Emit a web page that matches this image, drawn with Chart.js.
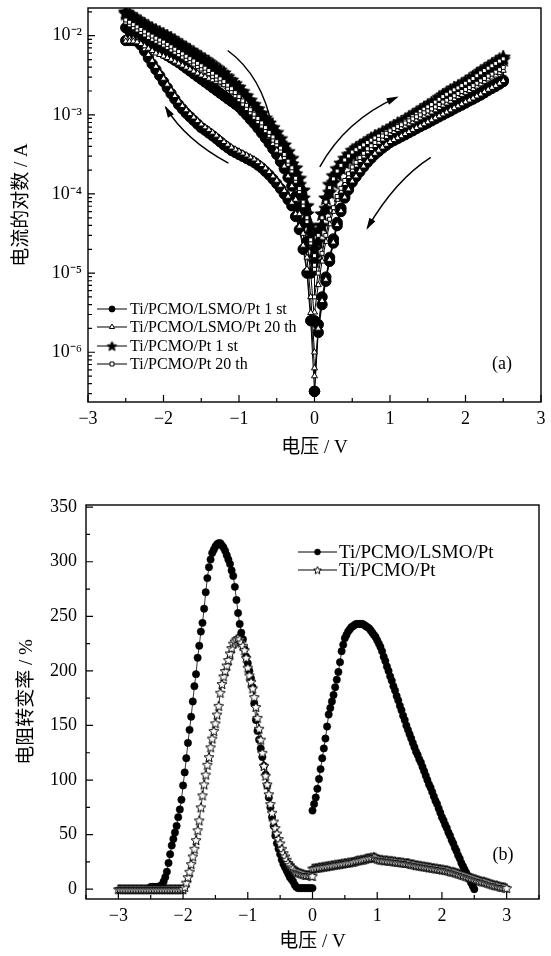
<!DOCTYPE html>
<html><head><meta charset="utf-8">
<script src="https://cdn.jsdelivr.net/npm/chart.js@4.4.0/dist/chart.umd.min.js"></script>
<style>
html,body{margin:0;padding:0;background:#fff;width:551px;height:956px;overflow:hidden}
#ca{position:absolute;left:0;top:0}
#cb{position:absolute;left:0;top:478px}
</style></head><body>
<canvas id="ca" width="551" height="460"></canvas>
<canvas id="cb" width="551" height="478"></canvas>
<script>
// ---------- Panel (a): I-V loops; every branch listed from |V|=0 to |V|=2.5 ----------
const voltsPosA = [0,0.05,0.1,0.15,0.2,0.25,0.3,0.35,0.4,0.45,
  0.5,0.55,0.6,0.65,0.7,0.75,0.8,0.85,0.9,0.95,
  1.0,1.05,1.1,1.15,1.2,1.25,1.3,1.35,1.4,1.45,
  1.5,1.55,1.6,1.65,1.7,1.75,1.8,1.85,1.9,1.95,
  2.0,2.05,2.1,2.15,2.2,2.25,2.3,2.35,2.4,2.45,2.5];
const voltsNegA = [0,-0.05,-0.1,-0.15,-0.2,-0.25,-0.3,-0.35,-0.4,-0.45,
  -0.5,-0.55,-0.6,-0.65,-0.7,-0.75,-0.8,-0.85,-0.9,-0.95,
  -1.0,-1.05,-1.1,-1.15,-1.2,-1.25,-1.3,-1.35,-1.4,-1.45,
  -1.5,-1.55,-1.6,-1.65,-1.7,-1.75,-1.8,-1.85,-1.9,-1.95,
  -2.0,-2.05,-2.1,-2.15,-2.2,-2.25,-2.3,-2.35,-2.4,-2.45,-2.5];

// Ti/PCMO/LSMO/Pt 1 st (A)
const lsmo1PosOut = [3.2e-7,2.24e-6,5.0e-6,8.9e-6,1.58e-5,2.7e-5,4.37e-5,6.6e-5,9.5e-5,1.22e-4,
  1.51e-4,1.77e-4,2.04e-4,2.36e-4,2.69e-4,3.03e-4,3.39e-4,3.72e-4,4.07e-4,4.42e-4,
  4.79e-4,5.1e-4,5.4e-4,5.7e-4,6.0e-4,6.4e-4,6.8e-4,7.2e-4,7.6e-4,8.0e-4,
  8.5e-4,9.0e-4,9.5e-4,1.01e-3,1.07e-3,1.13e-3,1.2e-3,1.27e-3,1.35e-3,1.43e-3,
  1.51e-3,1.6e-3,1.7e-3,1.8e-3,1.91e-3,2.05e-3,2.19e-3,2.32e-3,2.45e-3,2.6e-3,2.75e-3];
const lsmo1PosBack = [3.2e-7,1.78e-6,4.0e-6,7.9e-6,1.41e-5,2.4e-5,3.98e-5,6.0e-5,8.9e-5,1.13e-4,
  1.41e-4,1.65e-4,1.91e-4,2.2e-4,2.51e-4,2.82e-4,3.16e-4,3.47e-4,3.8e-4,4.12e-4,
  4.47e-4,4.73e-4,5.0e-4,5.3e-4,5.6e-4,5.95e-4,6.3e-4,6.7e-4,7.1e-4,7.5e-4,
  7.9e-4,8.4e-4,8.9e-4,9.45e-4,1.0e-3,1.06e-3,1.12e-3,1.19e-3,1.26e-3,1.33e-3,
  1.41e-3,1.5e-3,1.58e-3,1.68e-3,1.78e-3,1.9e-3,2.04e-3,2.16e-3,2.29e-3,2.45e-3,2.63e-3];
const lsmo1NegOut = [3.2e-7,2.5e-6,1.0e-5,2.0e-5,3.55e-5,5.2e-5,7.1e-5,8.5e-5,1.0e-4,1.17e-4,
  1.35e-4,1.54e-4,1.74e-4,1.93e-4,2.14e-4,2.32e-4,2.51e-4,2.66e-4,2.82e-4,2.99e-4,
  3.16e-4,3.35e-4,3.55e-4,3.85e-4,4.17e-4,4.57e-4,5.0e-4,5.45e-4,5.9e-4,6.4e-4,
  6.9e-4,7.65e-4,8.5e-4,9.45e-4,1.05e-3,1.19e-3,1.35e-3,1.58e-3,1.86e-3,2.2e-3,
  2.63e-3,3.13e-3,3.72e-3,4.4e-3,5.25e-3,6.4e-3,7.6e-3,8.5e-3,8.7e-3,8.7e-3,8.7e-3];
const lsmo1NegBack = [2.5e-6,1.0e-5,2.51e-5,4.27e-5,6.8e-5,9.3e-5,1.26e-4,1.62e-4,2.09e-4,2.57e-4,
  3.16e-4,3.72e-4,4.37e-4,5.1e-4,5.9e-4,6.8e-4,7.8e-4,8.8e-4,1.0e-3,1.12e-3,
  1.26e-3,1.37e-3,1.48e-3,1.6e-3,1.74e-3,1.88e-3,2.04e-3,2.21e-3,2.4e-3,2.6e-3,
  2.82e-3,3.05e-3,3.31e-3,3.59e-3,3.89e-3,4.22e-3,4.57e-3,4.9e-3,5.25e-3,5.6e-3,
  6.0e-3,6.45e-3,6.9e-3,7.4e-3,7.9e-3,8.5e-3,9.1e-3,9.9e-3,1.07e-2,1.16e-2,1.26e-2];

// Ti/PCMO/LSMO/Pt 20 th (A)
const lsmo20PosOut = [3.2e-6,7.1e-6,1.41e-5,2.5e-5,4.17e-5,6.0e-5,8.5e-5,1.08e-4,1.35e-4,1.65e-4,
  2.0e-4,2.3e-4,2.63e-4,3.0e-4,3.39e-4,3.72e-4,4.07e-4,4.47e-4,4.9e-4,5.3e-4,
  5.75e-4,6.1e-4,6.5e-4,6.85e-4,7.2e-4,7.65e-4,8.1e-4,8.6e-4,9.1e-4,9.65e-4,
  1.02e-3,1.08e-3,1.15e-3,1.23e-3,1.32e-3,1.4e-3,1.48e-3,1.59e-3,1.7e-3,1.8e-3,
  1.91e-3,2.02e-3,2.14e-3,2.29e-3,2.45e-3,2.63e-3,2.82e-3,2.99e-3,3.16e-3,3.39e-3,3.63e-3];
const lsmo20PosBack = [5.0e-7,2.0e-6,4.47e-6,8.3e-6,1.48e-5,2.45e-5,4.07e-5,6.1e-5,9.1e-5,1.15e-4,
  1.45e-4,1.68e-4,1.95e-4,2.24e-4,2.57e-4,2.89e-4,3.24e-4,3.55e-4,3.89e-4,4.22e-4,
  4.57e-4,4.83e-4,5.1e-4,5.4e-4,5.75e-4,6.1e-4,6.5e-4,6.85e-4,7.2e-4,7.65e-4,
  8.1e-4,8.6e-4,9.1e-4,9.65e-4,1.02e-3,1.08e-3,1.15e-3,1.22e-3,1.29e-3,1.37e-3,
  1.45e-3,1.53e-3,1.62e-3,1.72e-3,1.82e-3,1.95e-3,2.09e-3,2.21e-3,2.34e-3,2.5e-3,2.69e-3];
const lsmo20NegOut = [6.3e-7,3.16e-6,1.12e-5,2.24e-5,3.89e-5,5.6e-5,7.8e-5,9.3e-5,1.1e-4,1.28e-4,
  1.48e-4,1.68e-4,1.91e-4,2.12e-4,2.34e-4,2.54e-4,2.75e-4,2.92e-4,3.09e-4,3.27e-4,
  3.47e-4,3.67e-4,3.89e-4,4.22e-4,4.57e-4,5.0e-4,5.5e-4,6.0e-4,6.5e-4,7.0e-4,
  7.6e-4,8.4e-4,9.3e-4,1.03e-3,1.15e-3,1.3e-3,1.48e-3,1.74e-3,2.04e-3,2.42e-3,
  2.88e-3,3.42e-3,4.07e-3,4.84e-3,5.75e-3,6.8e-3,7.9e-3,8.7e-3,9.1e-3,9.2e-3,9.3e-3];
const lsmo20NegBack = [1.0e-6,5.0e-6,1.58e-5,3.16e-5,5.6e-5,8.5e-5,1.26e-4,1.68e-4,2.24e-4,2.82e-4,
  3.55e-4,4.32e-4,5.25e-4,6.3e-4,7.6e-4,8.9e-4,1.05e-3,1.2e-3,1.38e-3,1.55e-3,
  1.74e-3,1.91e-3,2.09e-3,2.24e-3,2.4e-3,2.51e-3,2.63e-3,2.75e-3,2.88e-3,3.02e-3,
  3.16e-3,3.35e-3,3.55e-3,3.76e-3,3.98e-3,4.22e-3,4.47e-3,4.73e-3,5.0e-3,5.25e-3,
  5.5e-3,5.75e-3,6.0e-3,6.45e-3,6.9e-3,7.4e-3,7.9e-3,8.3e-3,8.5e-3,8.5e-3,8.5e-3];

// Ti/PCMO/Pt 1 st (A)
const pcmo1PosOut = [2.0e-5,3.5e-5,5.6e-5,8.9e-5,1.32e-4,1.7e-4,2.09e-4,2.45e-4,2.82e-4,3.16e-4,
  3.55e-4,3.8e-4,4.07e-4,4.37e-4,4.68e-4,5.01e-4,5.37e-4,5.62e-4,6.03e-4,6.31e-4,
  6.76e-4,7.24e-4,7.76e-4,8.13e-4,8.71e-4,9.33e-4,1.0e-3,1.07e-3,1.15e-3,1.23e-3,
  1.32e-3,1.41e-3,1.51e-3,1.66e-3,1.78e-3,1.91e-3,2.04e-3,2.19e-3,2.29e-3,2.45e-3,
  2.63e-3,2.82e-3,3.02e-3,3.31e-3,3.55e-3,3.8e-3,4.07e-3,4.37e-3,4.68e-3,5.01e-3,5.37e-3];
const pcmo1PosBack = [1.4e-5,2.5e-5,4.0e-5,6.6e-5,1.05e-4,1.4e-4,1.78e-4,2.14e-4,2.51e-4,2.82e-4,
  3.16e-4,3.45e-4,3.72e-4,4.0e-4,4.27e-4,4.57e-4,4.9e-4,5.2e-4,5.5e-4,5.85e-4,
  6.2e-4,6.6e-4,7.1e-4,7.5e-4,7.9e-4,8.5e-4,9.1e-4,9.8e-4,1.05e-3,1.12e-3,
  1.2e-3,1.29e-3,1.38e-3,1.5e-3,1.62e-3,1.74e-3,1.86e-3,1.97e-3,2.09e-3,2.24e-3,
  2.4e-3,2.57e-3,2.75e-3,2.99e-3,3.24e-3,3.47e-3,3.72e-3,3.98e-3,4.27e-3,4.62e-3,5.0e-3];
const pcmo1NegOut = [1.58e-5,3.16e-5,5.6e-5,8.9e-5,1.32e-4,1.8e-4,2.4e-4,2.95e-4,3.63e-4,4.37e-4,
  5.25e-4,6.1e-4,7.1e-4,8.1e-4,9.3e-4,1.06e-3,1.2e-3,1.36e-3,1.55e-3,1.76e-3,
  2.0e-3,2.21e-3,2.45e-3,2.72e-3,3.02e-3,3.27e-3,3.55e-3,3.85e-3,4.17e-3,4.47e-3,
  4.79e-3,5.13e-3,5.5e-3,5.9e-3,6.3e-3,6.75e-3,7.24e-3,7.76e-3,8.3e-3,8.8e-3,
  9.3e-3,9.9e-3,1.05e-2,1.11e-2,1.17e-2,1.26e-2,1.35e-2,1.46e-2,1.58e-2,1.74e-2,1.91e-2];
const pcmo1NegBack = [2.0e-5,4.0e-5,7.1e-5,1.12e-4,1.58e-4,2.14e-4,2.82e-4,3.43e-4,4.17e-4,5.0e-4,
  6.0e-4,6.9e-4,7.9e-4,9.1e-4,1.05e-3,1.19e-3,1.35e-3,1.53e-3,1.74e-3,1.97e-3,
  2.24e-3,2.48e-3,2.75e-3,3.05e-3,3.39e-3,3.67e-3,3.98e-3,4.32e-3,4.68e-3,5.01e-3,
  5.37e-3,5.75e-3,6.17e-3,6.61e-3,7.08e-3,7.59e-3,8.13e-3,8.71e-3,9.33e-3,9.9e-3,
  1.05e-2,1.11e-2,1.17e-2,1.24e-2,1.32e-2,1.41e-2,1.51e-2,1.62e-2,1.74e-2,1.87e-2,2.0e-2];

// Ti/PCMO/Pt 20 th (A)
const pcmo20PosOut = [1.66e-5,3.0e-5,5.0e-5,7.9e-5,1.2e-4,1.55e-4,1.95e-4,2.3e-4,2.69e-4,3.02e-4,
  3.39e-4,3.63e-4,3.89e-4,4.17e-4,4.47e-4,4.79e-4,5.1e-4,5.4e-4,5.75e-4,6.1e-4,
  6.5e-4,6.9e-4,7.4e-4,7.8e-4,8.3e-4,8.9e-4,9.5e-4,1.02e-3,1.1e-3,1.18e-3,
  1.26e-3,1.35e-3,1.45e-3,1.57e-3,1.7e-3,1.82e-3,1.95e-3,2.07e-3,2.19e-3,2.34e-3,
  2.51e-3,2.69e-3,2.88e-3,3.12e-3,3.39e-3,3.63e-3,3.89e-3,4.17e-3,4.47e-3,4.78e-3,5.1e-3];
const pcmo20PosBack = [5.0e-6,1.0e-5,1.78e-5,3.0e-5,4.8e-5,6.7e-5,9.3e-5,1.18e-4,1.48e-4,1.8e-4,
  2.19e-4,2.51e-4,2.88e-4,3.27e-4,3.72e-4,4.07e-4,4.47e-4,4.9e-4,5.4e-4,5.85e-4,
  6.3e-4,6.7e-4,7.1e-4,7.5e-4,7.9e-4,8.4e-4,8.9e-4,9.45e-4,1.0e-3,1.06e-3,
  1.12e-3,1.19e-3,1.26e-3,1.35e-3,1.45e-3,1.53e-3,1.62e-3,1.74e-3,1.86e-3,1.97e-3,
  2.09e-3,2.21e-3,2.34e-3,2.51e-3,2.69e-3,2.88e-3,3.09e-3,3.27e-3,3.47e-3,3.72e-3,3.98e-3];
const pcmo20NegOut = [1.12e-5,2.4e-5,4.47e-5,7.1e-5,1.07e-4,1.45e-4,1.95e-4,2.37e-4,2.88e-4,3.47e-4,
  4.17e-4,4.79e-4,5.5e-4,6.3e-4,7.2e-4,8.2e-4,9.3e-4,1.06e-3,1.2e-3,1.36e-3,
  1.55e-3,1.74e-3,1.95e-3,2.16e-3,2.4e-3,2.6e-3,2.82e-3,3.06e-3,3.31e-3,3.55e-3,
  3.8e-3,4.07e-3,4.37e-3,4.68e-3,5.0e-3,5.37e-3,5.75e-3,6.17e-3,6.6e-3,7.1e-3,
  7.6e-3,8.05e-3,8.5e-3,9.0e-3,9.5e-3,1.02e-2,1.1e-2,1.18e-2,1.26e-2,1.37e-2,1.48e-2];
const pcmo20NegBack = [1.26e-5,2.63e-5,5.0e-5,7.9e-5,1.17e-4,1.58e-4,2.14e-4,2.6e-4,3.16e-4,3.8e-4,
  4.57e-4,5.25e-4,6.0e-4,6.9e-4,7.9e-4,9.0e-4,1.02e-3,1.16e-3,1.32e-3,1.5e-3,
  1.7e-3,1.91e-3,2.14e-3,2.37e-3,2.63e-3,2.85e-3,3.09e-3,3.35e-3,3.63e-3,3.89e-3,
  4.17e-3,4.47e-3,4.79e-3,5.13e-3,5.5e-3,5.9e-3,6.3e-3,6.75e-3,7.24e-3,7.76e-3,
  8.3e-3,8.8e-3,9.3e-3,9.9e-3,1.05e-2,1.12e-2,1.2e-2,1.29e-2,1.38e-2,1.48e-2,1.58e-2];

const labelsA = ['Ti/PCMO/LSMO/Pt 1 st','Ti/PCMO/LSMO/Pt 20 th','Ti/PCMO/Pt 1 st','Ti/PCMO/Pt 20 th'];
const xTicksA = [-3,-2,-1,0,1,2,3];
const xTickLabelsA = ['\u22123','\u22122','\u22121','0','1','2','3'];
const yTicksA = [1e-6,1e-5,1e-4,1e-3,1e-2];
const yTickLabelsA = ['10\u207B\u2076','10\u207B\u2075','10\u207B\u2074','10\u207B\u00B3','10\u207B\u00B2'];

// ---------- Panel (b): resistance switching ratio (%) ----------
const voltsNegB = [-3,-2.975,-2.95,-2.925,-2.9,-2.875,-2.85,-2.825,-2.8,-2.775,
  -2.75,-2.725,-2.7,-2.675,-2.65,-2.625,-2.6,-2.575,-2.55,-2.525,
  -2.5,-2.475,-2.45,-2.425,-2.4,-2.375,-2.35,-2.325,-2.3,-2.275,
  -2.25,-2.225,-2.2,-2.175,-2.15,-2.125,-2.1,-2.075,-2.05,-2.025,
  -2,-1.975,-1.95,-1.925,-1.9,-1.875,-1.85,-1.825,-1.8,-1.775,
  -1.75,-1.725,-1.7,-1.675,-1.65,-1.625,-1.6,-1.575,-1.55,-1.525,
  -1.5,-1.475,-1.45,-1.425,-1.4,-1.375,-1.35,-1.325,-1.3,-1.275,
  -1.25,-1.225,-1.2,-1.175,-1.15,-1.125,-1.1,-1.075,-1.05,-1.025,
  -1,-0.975,-0.95,-0.925,-0.9,-0.875,-0.85,-0.825,-0.8,-0.775,
  -0.75,-0.725,-0.7,-0.675,-0.65,-0.625,-0.6,-0.575,-0.55,-0.525,
  -0.5,-0.475,-0.45,-0.425,-0.4,-0.375,-0.35,-0.325,-0.3,-0.275,
  -0.25,-0.225,-0.2,-0.175,-0.15,-0.125,-0.1,-0.075,-0.05,-0.025,0];
const voltsPosB = [0,0.025,0.05,0.075,0.1,0.125,0.15,0.175,0.2,0.225,
  0.25,0.275,0.3,0.325,0.35,0.375,0.4,0.425,0.45,0.475,
  0.5,0.525,0.55,0.575,0.6,0.625,0.65,0.675,0.7,0.725,
  0.75,0.775,0.8,0.825,0.85,0.875,0.9,0.925,0.95,0.975,
  1,1.025,1.05,1.075,1.1,1.125,1.15,1.175,1.2,1.225,
  1.25,1.275,1.3,1.325,1.35,1.375,1.4,1.425,1.45,1.475,
  1.5,1.525,1.55,1.575,1.6,1.625,1.65,1.675,1.7,1.725,
  1.75,1.775,1.8,1.825,1.85,1.875,1.9,1.925,1.95,1.975,
  2,2.025,2.05,2.075,2.1,2.125,2.15,2.175,2.2,2.225,
  2.25,2.275,2.3,2.325,2.35,2.375,2.4,2.425,2.45,2.475,
  2.5,2.525,2.55,2.575,2.6,2.625,2.65,2.675,2.7,2.725,
  2.75,2.775,2.8,2.825,2.85,2.875,2.9,2.925,2.95,2.975,3];
// Ti/PCMO/LSMO/Pt : -2.5..0 and 0..2.5
const ratioLsmoNeg = [2,2,2,2,2,2,3,4,7,11,
  16,24,32,40,46,52,58,66,73,82,
  95,107,120,134,146,158,172,186,197,212,
  223,236,244,257,272,285,295,302,308,311,
  314,316,317,317,315,313,310,306,302,298,
  292,287,277,265,253,243,235,229,220,213,
  207,200,193,185,170,155,145,137,129,121,
  113,105,95,84,75,66,58,49,42,37,
  32,27,23,20,17,14,11,9,7,4,
  2,1,1,1,1,1,1,1,1,1,1];
const ratioLsmoPos = [72,78,84,92,101,110,120,129,138,149,
  160,166,172,178,185,192,199,208,218,224,
  230,233,236,238,240,241,242,243,243,243,
  243,243,242,241,240,239,237,235,233,231,
  228,225,222,218,213,209,204,200,195,191,
  186,182,177,173,168,164,159,155,150,146,
  142,138,134,130,126,123,119,116,112,108,
  104,100,96,93,89,85,81,78,74,70,
  66,63,59,56,52,49,45,42,38,35,
  31,28,24,21,18,15,12,9,6,3,0];
// Ti/PCMO/Pt : -3..0 and 0..3
const ratioPcmoNeg = [0,0,0,0,0,0,0,0,0,0,
  0,0,0,0,0,0,0,0,0,0,
  0,0,0,0,0,0,0,0,0,0,
  0,0,0,0,0,0,0,0,0,0,
  0,2,6,11,16,23,30,37,45,54,
  63,75,86,96,105,114,121,130,138,145,
  152,160,168,180,188,195,200,205,210,216,
  221,225,227,229,230,229,226,223,219,212,
  203,196,190,184,176,167,157,147,137,125,
  113,104,96,87,78,70,62,56,51,46,
  42,37,33,30,27,24,22,20,19,17,
  16,15.5,15,14.5,14,13.5,13,13,13,12.5,12];
const ratioPcmoPos = [19,19,19.5,19.5,20,20,20.5,20.5,21,21,
  21.5,21.5,22,22,22.5,22.5,23,23,23.5,23.5,
  24,24,24.5,24.5,25,25,25.5,26,26.5,26.5,
  27,27,27.5,28,28.5,28.5,29,29,29.5,29,
  28,27.5,27,27,26.5,26.5,26.5,26,26,26,
  25.5,25.5,25,25,25,24.5,24.5,24,24,24,
  23.5,23,23,22.5,22,22,21.5,21.5,21,21,
  20.5,20.5,20,20,19.5,19.5,19,19,18.5,18.5,
  18,18,17.5,17.5,17,16.5,16,16,15.5,15,
  14.5,14,13.5,13,12.5,12,11.5,11,10.5,10,
  9.5,9,8.5,8,7.5,7,7,6.5,6,5.5,
  5,4.5,4,3.5,3.5,3,2.5,2,2,1.5,1];
const labelsB = ['Ti/PCMO/LSMO/Pt','Ti/PCMO/Pt'];
const xTicksB = [-3,-2,-1,0,1,2,3];
const xTickLabelsB = ['\u22123','\u22122','\u22121','0','1','2','3'];
const yTicksB = [0,50,100,150,200,250,300,350];
const yTickLabelsB = ['0','50','100','150','200','250','300','350'];

// ---------- helpers ----------
const FONT = "'Liberation Serif','Noto Sans CJK SC',serif";
function makeStar(r, fill) {
  const s = Math.ceil(r * 2 + 3), c = document.createElement('canvas');
  c.width = s; c.height = s;
  const g = c.getContext('2d');
  g.translate(s / 2, s / 2 + 0.5);
  g.beginPath();
  for (let i = 0; i < 10; i++) {
    const rr = i % 2 === 0 ? r : r * 0.45, an = -Math.PI / 2 + i * Math.PI / 5;
    g.lineTo(rr * Math.cos(an), rr * Math.sin(an));
  }
  g.closePath(); g.fillStyle = fill; g.fill();
  g.lineWidth = 1; g.strokeStyle = '#000'; g.stroke();
  return c;
}
function loop(po, pb, no, nb) {
  const pts = [];
  voltsPosA.forEach((v, i) => pts.push({x: v, y: po[i]}));
  for (let i = voltsPosA.length - 1; i >= 0; i--) pts.push({x: voltsPosA[i], y: pb[i]});
  voltsNegA.forEach((v, i) => pts.push({x: v, y: no[i]}));
  for (let i = voltsNegA.length - 1; i >= 0; i--) pts.push({x: voltsNegA[i], y: nb[i]});
  return pts;
}
function joinB(vn, yn, vp, yp) {
  const pts = vn.map((v, i) => ({x: v, y: yn[i]}));
  pts.push({x: 0, y: null});
  vp.forEach((v, i) => pts.push({x: v, y: yp[i]}));
  return pts;
}
function drawFrame(chart, xMaj, xMin, yMaj, yMin) {
  const {ctx, chartArea: a, scales: {x, y}} = chart;
  ctx.save();
  ctx.strokeStyle = '#000';
  ctx.lineWidth = 1.4;
  ctx.strokeRect(a.left, a.top, a.right - a.left, a.bottom - a.top);
  ctx.lineWidth = 1.2;
  ctx.beginPath();
  xMaj.forEach(v => { const p = x.getPixelForValue(v); ctx.moveTo(p, a.bottom); ctx.lineTo(p, a.bottom - 7); });
  xMin.forEach(v => { const p = x.getPixelForValue(v); ctx.moveTo(p, a.bottom); ctx.lineTo(p, a.bottom - 4); });
  yMaj.forEach(v => { const p = y.getPixelForValue(v); ctx.moveTo(a.left, p); ctx.lineTo(a.left + 7, p); });
  yMin.forEach(v => { const p = y.getPixelForValue(v); ctx.moveTo(a.left, p); ctx.lineTo(a.left + 4, p); });
  ctx.stroke();
  ctx.restore();
}
function drawLegend(chart, x0, x1, xt, ys, size) {
  const ctx = chart.ctx;
  ctx.save();
  chart.data.datasets.forEach((ds, i) => {
    const y = ys[i];
    ctx.strokeStyle = '#000'; ctx.lineWidth = 1;
    ctx.beginPath(); ctx.moveTo(x0, y); ctx.lineTo(x1, y); ctx.stroke();
    ctx.fillStyle = ds.pointBackgroundColor; ctx.strokeStyle = '#000'; ctx.lineWidth = ds.pointBorderWidth;
    const r = Math.min(ds.pointRadius, 3);
    Chart.helpers.drawPoint(ctx, {pointStyle: ds.legendStyle || ds.pointStyle, radius: r, rotation: 0, borderWidth: ds.pointBorderWidth}, (x0 + x1) / 2, y);
    ctx.fillStyle = '#000';
    ctx.font = size + 'px ' + FONT;
    ctx.textBaseline = 'middle'; ctx.textAlign = 'left';
    ctx.fillText(ds.label, xt, y + 1);
  });
  ctx.restore();
}
function drawArrow(chart, ar) {
  const {ctx, scales: {x, y}} = chart;
  const P = p => [x.getPixelForValue(p[0]), y.getPixelForValue(p[1])];
  const p0 = P(ar.from), pc = P(ar.ctrl), p1 = P(ar.to);
  ctx.save();
  ctx.strokeStyle = '#000'; ctx.fillStyle = '#000'; ctx.lineWidth = 1.5;
  ctx.beginPath(); ctx.moveTo(p0[0], p0[1]); ctx.quadraticCurveTo(pc[0], pc[1], p1[0], p1[1]); ctx.stroke();
  const an = Math.atan2(p1[1] - pc[1], p1[0] - pc[0]), L = 10, W = 3.5;
  ctx.beginPath();
  ctx.moveTo(p1[0] + 2 * Math.cos(an), p1[1] + 2 * Math.sin(an));
  ctx.lineTo(p1[0] - L * Math.cos(an) + W * Math.sin(an), p1[1] - L * Math.sin(an) - W * Math.cos(an));
  ctx.lineTo(p1[0] - L * Math.cos(an) - W * Math.sin(an), p1[1] - L * Math.sin(an) + W * Math.cos(an));
  ctx.closePath(); ctx.fill();
  ctx.restore();
}

// sweep-direction arrows of panel (a), in data coordinates (V, A)
const arrowsA = [
  {from: [-1.15, 6.5e-3], ctrl: [-0.69, 3.1e-3], to: [-0.56, 6.8e-4]},
  {from: [-1.14, 2.45e-4], ctrl: [-1.71, 4.8e-4], to: [-1.97, 1.24e-3]},
  {from: [0.07, 2.2e-4], ctrl: [0.41, 8.5e-4], to: [1.09, 1.66e-3]},
  {from: [1.54, 2.9e-4], ctrl: [1.07, 1.5e-4], to: [0.70, 3.7e-5]}
];

const starFilled = makeStar(7.5, '#000');
const starOpen = makeStar(5.2, '#fff');
const starFilledLeg = makeStar(5, '#000');
const starOpenLeg = makeStar(4, '#fff');

const tickFont = {family: FONT, size: 18};
const titleFont = {family: FONT, size: 19, lineHeight: 1.2};

// ---------- chart (a) ----------
const minorYA = [];
for (let n = -7; n <= -2; n++) for (let k = 2; k <= 9; k++) { const v = k * Math.pow(10, n); if (v > 2.35e-7 && v < 2.24e-2) minorYA.push(v); }

new Chart(document.getElementById('ca'), {
  type: 'scatter',
  data: {datasets: [
    {label: labelsA[0], data: loop(lsmo1PosOut, lsmo1PosBack, lsmo1NegOut, lsmo1NegBack), showLine: true, order: 4,
     borderColor: '#000', borderWidth: 1, pointStyle: 'circle', pointRadius: 5.2, pointBackgroundColor: '#000', pointBorderColor: '#000', pointBorderWidth: 1},
    {label: labelsA[1], data: loop(lsmo20PosOut, lsmo20PosBack, lsmo20NegOut, lsmo20NegBack), showLine: true, order: 2,
     borderColor: '#000', borderWidth: 1, pointStyle: 'triangle', pointRadius: 3.5, pointBackgroundColor: '#fff', pointBorderColor: '#000', pointBorderWidth: 1},
    {label: labelsA[2], data: loop(pcmo1PosOut, pcmo1PosBack, pcmo1NegOut, pcmo1NegBack), showLine: true, order: 3,
     borderColor: '#000', borderWidth: 1, pointStyle: starFilled, legendStyle: starFilledLeg, pointRadius: 7, pointBackgroundColor: '#000', pointBorderColor: '#000', pointBorderWidth: 1},
    {label: labelsA[3], data: loop(pcmo20PosOut, pcmo20PosBack, pcmo20NegOut, pcmo20NegBack), showLine: true, order: 1,
     borderColor: '#000', borderWidth: 1, pointStyle: 'rect', pointRadius: 2.8, pointBackgroundColor: '#fff', pointBorderColor: '#000', pointBorderWidth: 1}
  ]},
  options: {
    responsive: false, animation: false, events: [],
    layout: {padding: {top: 7, right: 10, left: 0, bottom: 0}},
    plugins: {legend: {display: false}, tooltip: {enabled: false}},
    scales: {
      x: {type: 'linear', min: -3, max: 3,
        grid: {display: false, drawTicks: false}, border: {display: false},
        afterBuildTicks: s => { s.ticks = xTicksA.map(v => ({value: v})); },
        afterFit: s => { s.height = 58; s.paddingLeft = 0; s.paddingRight = 0; },
        ticks: {autoSkip: false, maxRotation: 0, padding: 6, color: '#000', font: tickFont,
          callback: (v, i) => xTickLabelsA[i]},
        title: {display: true, text: '电压 / V', color: '#000', font: titleFont, padding: {top: 0, bottom: 1}}},
      y: {type: 'logarithmic', min: 2.35e-7, max: 2.24e-2,
        grid: {display: false, drawTicks: false}, border: {display: false},
        afterBuildTicks: s => { s.ticks = yTicksA.map(v => ({value: v})); },
        afterFit: s => { s.width = 88; s.paddingTop = 0; s.paddingBottom = 0; },
        ticks: {autoSkip: false, padding: 6, color: '#000', font: tickFont,
          callback: (v, i) => yTickLabelsA[i]},
        title: {display: true, text: '电流的对数 / A', color: '#000', font: titleFont, padding: {top: 11, bottom: 0}}}
    }
  },
  plugins: [{id: 'decorA', afterDatasetsDraw(chart) {
    drawFrame(chart, xTicksA, [-2.5, -1.5, -0.5, 0.5, 1.5, 2.5], yTicksA, minorYA);
    arrowsA.forEach(a => drawArrow(chart, a));
    drawLegend(chart, 97, 127, 130, [309, 327, 346, 364], 16);
    const ctx = chart.ctx; ctx.save(); ctx.fillStyle = '#000'; ctx.font = '18px ' + FONT;
    ctx.textAlign = 'center'; ctx.textBaseline = 'middle'; ctx.fillText('(a)', 502, 364); ctx.restore();
  }}]
});

// ---------- chart (b) ----------
new Chart(document.getElementById('cb'), {
  type: 'scatter',
  data: {datasets: [
    {label: labelsB[0], data: joinB(voltsNegB.slice(20), ratioLsmoNeg, voltsPosB.slice(0, 101), ratioLsmoPos), showLine: true, order: 2,
     borderColor: '#000', borderWidth: 0.8, pointStyle: 'circle', pointRadius: 3.7, pointBackgroundColor: '#000', pointBorderColor: '#000', pointBorderWidth: 0.5},
    {label: labelsB[1], data: joinB(voltsNegB, ratioPcmoNeg, voltsPosB, ratioPcmoPos), showLine: true, order: 1,
     borderColor: '#000', borderWidth: 0.8, pointStyle: starOpen, legendStyle: starOpenLeg, pointRadius: 5, pointBackgroundColor: '#fff', pointBorderColor: '#000', pointBorderWidth: 1}
  ]},
  options: {
    responsive: false, animation: false, events: [],
    layout: {padding: {top: 27, right: 12, left: 0, bottom: 0}},
    plugins: {legend: {display: false}, tooltip: {enabled: false}},
    scales: {
      x: {type: 'linear', min: -3.5, max: 3.5,
        grid: {display: false, drawTicks: false}, border: {display: false},
        afterBuildTicks: s => { s.ticks = xTicksB.map(v => ({value: v})); },
        afterFit: s => { s.height = 57; s.paddingLeft = 0; s.paddingRight = 0; },
        ticks: {autoSkip: false, maxRotation: 0, padding: 6, color: '#000', font: tickFont,
          callback: (v, i) => xTickLabelsB[i]},
        title: {display: true, text: '电压 / V', color: '#000', font: titleFont, padding: {top: 0, bottom: 3}}},
      y: {type: 'linear', min: -9, max: 352,
        grid: {display: false, drawTicks: false}, border: {display: false},
        afterBuildTicks: s => { s.ticks = yTicksB.map(v => ({value: v})); },
        afterFit: s => { s.width = 86; s.paddingTop = 0; s.paddingBottom = 0; },
        ticks: {autoSkip: false, padding: 9, color: '#000', font: tickFont,
          callback: (v, i) => yTickLabelsB[i]},
        title: {display: true, text: '电阻转变率 / %', color: '#000', font: titleFont, padding: {top: 16, bottom: 0}}}
    }
  },
  plugins: [{id: 'decorB', afterDatasetsDraw(chart) {
    drawFrame(chart, xTicksB, [-3.5, -2.5, -1.5, -0.5, 0.5, 1.5, 2.5, 3.5], yTicksB, [25, 75, 125, 175, 225, 275, 325]);
    drawLegend(chart, 298, 337, 339, [74, 92], 19);
    const ctx = chart.ctx; ctx.save(); ctx.fillStyle = '#000'; ctx.font = '18px ' + FONT;
    ctx.textAlign = 'center'; ctx.textBaseline = 'middle'; ctx.fillText('(b)', 503, 377); ctx.restore();
  }}]
});
</script></body></html>
